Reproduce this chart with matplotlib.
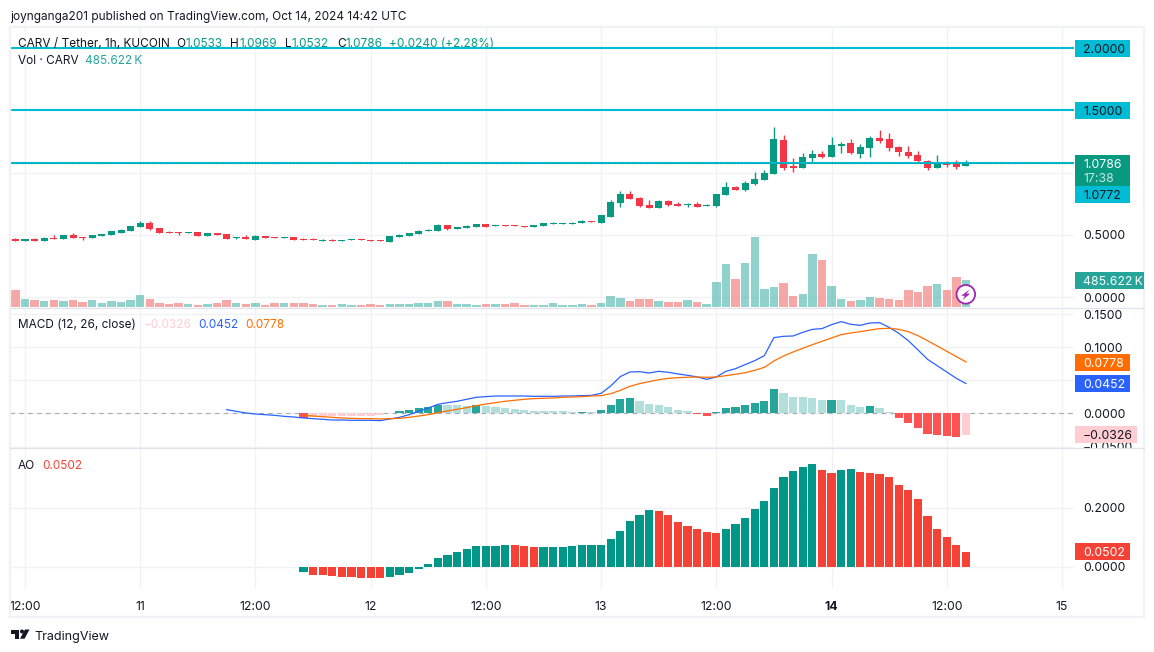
import matplotlib
matplotlib.use('Agg')
import matplotlib.pyplot as plt
from matplotlib.patches import Rectangle, Circle, Polygon
import numpy as np

plt.rcParams['font.family'] = ['Inter', 'DejaVu Sans']

W, H = 1154, 652

# Hourly candles, Oct 10 11:00 to Oct 14 14:00
opens = [.4693, .4532, .4666, .4505, .4747, .4666, .4988, .4827, .4747, .4907,
         .4988, .5149, .5310, .5632, .5953, .5551, .5229, .5229, .5149, .5229,
         .4907, .5149, .5068, .4747, .4827, .4586, .4907, .4827, .4747, .4827,
         .4666, .4666, .4532, .4612, .4532, .4586, .4666, .4586, .4586, .4425,
         .4827, .4907, .5068, .5310, .5310, .5792, .5471, .5551, .5632, .5873,
         .5712, .5792, .5792, .5712, .5632, .5712, .5873, .5873, .5873, .5953,
         .6114, .5953, .6436, .7562, .8286, .7965, .7402, .7160, .7723, .7482,
         .7402, .7482, .7321, .7321, .8206, .8850, .8608, .9091, .9413, .9895,
         1.2631, 1.0539, 1.0378, 1.1183, 1.1504, 1.1263, 1.2148, 1.2389, 1.1504, 1.1987,
         1.2792, 1.2711, 1.2068, 1.1665, 1.1424, 1.0941, 1.0378, 1.0780, 1.0700, 1.0533]
highs = [.4747, .4666, .4747, .4827, .4988, .4988, .5149, .4827, .4988, .5068,
         .5310, .5471, .5712, .6114, .6114, .5551, .5310, .5229, .5229, .5229,
         .5149, .5149, .5068, .4827, .4988, .4988, .4907, .4827, .4827, .4827,
         .4747, .4747, .4666, .4693, .4586, .4666, .4666, .4586, .4586, .4907,
         .5068, .5149, .5390, .5471, .5873, .5792, .5632, .5792, .5873, .5873,
         .5792, .5792, .5792, .5712, .5792, .5953, .6034, .5953, .6034, .6195,
         .6114, .6597, .7804, .8528, .8528, .8045, .7804, .7804, .7804, .7643,
         .7562, .7643, .7482, .8286, .9252, .8930, .9332, 1.0056, 1.0217, 1.3677,
         1.3033, 1.1183, 1.1585, 1.1826, 1.1746, 1.2872, 1.2470, 1.2711, 1.2309, 1.2953,
         1.3435, 1.3194, 1.2148, 1.2148, 1.1746, 1.1022, 1.1424, 1.0941, 1.1022, 1.0969]
lows = [.4532, .4532, .4532, .4505, .4666, .4666, .4747, .4586, .4747, .4907,
        .4988, .5149, .5310, .5632, .5390, .5149, .5149, .4988, .5149, .4907,
        .4907, .4988, .4666, .4666, .4666, .4586, .4747, .4747, .4747, .4586,
        .4586, .4586, .4532, .4532, .4532, .4586, .4586, .4532, .4532, .4425,
        .4827, .4907, .5068, .5310, .5310, .5390, .5471, .5551, .5632, .5632,
        .5712, .5712, .5712, .5658, .5632, .5712, .5873, .5873, .5873, .5953,
        .6034, .5953, .6436, .7241, .7884, .7241, .7160, .7160, .7321, .7321,
        .7241, .7241, .7321, .7241, .8206, .8608, .8528, .9010, .9413, .9895,
        1.0217, 1.0056, 1.0378, 1.0807, 1.1183, 1.1263, 1.1585, 1.1504, 1.1183, 1.1263,
        1.2389, 1.1746, 1.1344, 1.1183, 1.0861, 1.0217, 1.0378, 1.0459, 1.0298, 1.0532]
closes = [.4532, .4666, .4532, .4747, .4666, .4988, .4747, .4747, .4988, .5068,
          .5310, .5390, .5712, .5953, .5471, .5149, .5149, .5149, .5229, .4907,
          .5149, .4988, .4666, .4827, .4666, .4907, .4747, .4747, .4827, .4586,
          .4586, .4586, .4612, .4532, .4586, .4666, .4586, .4532, .4532, .4907,
          .4988, .5149, .5310, .5390, .5792, .5471, .5632, .5712, .5873, .5632,
          .5792, .5712, .5712, .5658, .5792, .5953, .5953, .5953, .5953, .6114,
          .6034, .6597, .7643, .8286, .7884, .7321, .7160, .7723, .7402, .7321,
          .7482, .7241, .7402, .8286, .8850, .8608, .9171, .9493, .9976, 1.2711,
          1.0378, 1.0378, 1.1263, 1.1504, 1.1263, 1.2229, 1.2309, 1.1585, 1.2068, 1.2792,
          1.2550, 1.1987, 1.1665, 1.1344, 1.0941, 1.0378, 1.0861, 1.0620, 1.0459, 1.0786]

# volume in thousands
volumes = [306, 144, 126, 108, 126, 108, 126, 90, 126, 72,
           108, 90, 126, 216, 144, 72, 54, 72, 54, 36,
           54, 72, 126, 72, 54, 72, 36, 72, 72, 72,
           72, 54, 36, 36, 54, 36, 36, 54, 36, 54,
           54, 54, 72, 72, 108, 108, 54, 54, 36, 54,
           54, 54, 72, 36, 36, 36, 72, 36, 36, 54,
           36, 72, 198, 162, 108, 144, 144, 108, 90, 90,
           126, 90, 54, 450, 774, 504, 792, 1260, 324, 360,
           432, 198, 234, 954, 846, 378, 144, 108, 126, 180,
           162, 144, 126, 306, 270, 378, 414, 306, 540, 485.622]

hlines = [2.0, 1.5, 1.0772]

macd_start = 22
macd_line = [.0058, .0033, .0008, -.0008, -.0018, -.0028, -.0043, -.0053,
             -.0068, -.0078, -.0088, -.0098, -.0098, -.0103, -.0103, -.0103, -.0108, -.0083,
             -.0058, -.0018, .0033, .0083, .0138, .0163, .0184, .0214, .0244, .0254,
             .0264, .0264, .0264, .0264, .0259, .0259, .0259, .0264, .0264, .0269,
             .0274, .0304, .0415, .0556, .0626, .0631, .0611, .0636, .0621, .0596,
             .0576, .0551, .0515, .0551, .0636, .0676, .0737, .0797, .0872, .1144,
             .1164, .1169, .1224, .1269, .1280, .1340, .1385, .1345, .1330, .1365,
             .1370, .1300, .1209, .1098, .0958, .0817, .0721, .0626, .0530, .0452]

ind_start = 30
signal_line = [-.0028, -.0038, -.0048, -.0058, -.0068, -.0073, -.0078, -.0078, -.0083, -.0078,
               -.0073, -.0058, -.0038, -.0018, .0013, .0038, .0063, .0088, .0118, .0143,
               .0163, .0184, .0199, .0214, .0224, .0229, .0234, .0244, .0249, .0254,
               .0264, .0269, .0299, .0349, .0410, .0450, .0480, .0510, .0530, .0540,
               .0546, .0551, .0546, .0551, .0571, .0591, .0616, .0651, .0696, .0792,
               .0867, .0928, .0983, .1038, .1088, .1139, .1189, .1214, .1234, .1259,
               .1280, .1285, .1269, .1234, .1174, .1098, .1018, .0938, .0857, .0778]
macd_hist = [-.0068, -.0048, -.0048, -.0043, -.0038, -.0038, -.0033, -.0033, -.0028, .0008,
             .0038, .0053, .0083, .0098, .0128, .0128, .0128, .0113, .0128, .0113,
             .0098, .0083, .0068, .0053, .0038, .0038, .0038, .0038, .0023, .0025,
             .0023, .0053, .0128, .0219, .0234, .0189, .0143, .0128, .0098, .0053,
             .0038, -.0008, -.0038, .0023, .0083, .0098, .0128, .0158, .0189, .0370,
             .0309, .0249, .0249, .0234, .0204, .0206, .0204, .0128, .0098, .0113,
             .0083, .0023, -.0068, -.0143, -.0219, -.0309, -.0324, -.0339, -.0354, -.0326]
ao_values = [-.0180, -.0281, -.0281, -.0314, -.0348, -.0348, -.0382, -.0382, -.0382, -.0348,
             -.0281, -.0213, -.0079, .0090, .0292, .0393, .0494, .0595, .0690, .0696,
             .0702, .0730, .0730, .0696, .0662, .0665, .0668, .0671, .0696, .0725,
             .0729, .0733, .0932, .1201, .1538, .1740, .1908, .1874, .1740, .1504,
             .1369, .1268, .1167, .1134, .1268, .1437, .1639, .1942, .2211, .2649,
             .3019, .3221, .3356, .3490, .3255, .3154, .3255, .3288, .3187, .3154,
             .3120, .3019, .2750, .2581, .2278, .1706, .1268, .0999, .0730, .0502]

x_ticks = [1, 13, 25, 37, 49, 61, 73, 85, 97, 109]
x_labels = ['12:00', '11', '12:00', '12', '12:00', '13', '12:00', '14', '12:00', '15']
main_ticks = [0.0, 0.5, 1.0, 1.5, 2.0]
main_labels = ['0.0000', '0.5000', '1.0000', '1.5000', '2.0000']
macd_ticks = [-0.05, 0.0, 0.05, 0.10, 0.15]
macd_labels = ['\u22120.0500', '0.0000', '0.0500', '0.1000', '0.1500']
ao_ticks = [0.0, 0.2]
ao_labels = ['0.0000', '0.2000']

GREEN = '#089981'
RED = '#F23645'
CYAN = '#00BCD4'
GRID = '#F1F2F6'
TEXT = '#131722'
FS = 8.8
LEGEND_FS = 8.5


def px_rect(left, top, right, bottom):
    return [left / W, 1 - bottom / H, (right - left) / W, (bottom - top) / H]


fig = plt.figure(figsize=(W / 100, H / 100), dpi=100)
ax = fig.add_axes(px_rect(10, 27, 1073.5, 307))
ax_macd = fig.add_axes(px_rect(10, 308, 1073.5, 447.5), sharex=ax)
ax_ao = fig.add_axes(px_rect(10, 448.5, 1073.5, 588), sharex=ax)

x = np.arange(len(closes))
x_ind = np.arange(ind_start, len(closes))
is_up = np.array(closes) >= np.array(opens)

# Main pane
ax_vol = ax.twinx()
ax_vol.bar(x, volumes, width=0.88, linewidth=0,
           color=['#26A69A80' if u else '#EF535080' for u in is_up])
ax_vol.set_ylim(0, 5040)
ax_vol.set_yticks([])
for s in ax_vol.spines.values():
    s.set_visible(False)

colors = [GREEN if u else RED for u in is_up]
ax.vlines(x, lows, highs, colors=colors, linewidth=1.0, zorder=3)
ax.bar(x, np.abs(np.array(closes) - np.array(opens)), bottom=np.minimum(opens, closes),
       width=0.73, color=colors, linewidth=0, zorder=4)
for level in hlines:
    ax.axhline(level, color=CYAN, linewidth=1.5, zorder=5)
ax.axhline(closes[-1], color=GREEN, linewidth=0.8, linestyle=':', zorder=6)
ax.set_ylim(-0.0803, 2.1687)
ax.set_xlim(-0.5625, 110.2)
ax.yaxis.tick_right()
ax.set_yticks(main_ticks, main_labels)

# MACD pane
hist = np.array(macd_hist)
prev_hist = np.concatenate([[0], hist[:-1]])
hist_colors = []
for v, p in zip(hist, prev_hist):
    if v >= 0:
        hist_colors.append('#26A69A' if v > p else '#B2DFDB')
    else:
        hist_colors.append('#FF5252' if v < p else '#FFCDD2')
ax_macd.axhline(0, color='#787B86', alpha=0.6, linewidth=0.8, linestyle=(0, (4, 4)), zorder=1)
ax_macd.bar(x_ind, hist, width=0.86, color=hist_colors, linewidth=0, zorder=2)
ax_macd.plot(np.arange(macd_start, len(closes)), macd_line, color='#2962FF', linewidth=0.9, zorder=3)
ax_macd.plot(x_ind, signal_line, color='#FF6D00', linewidth=0.9, zorder=4)
ax_macd.set_ylim(-0.0513, 0.1591)
ax_macd.yaxis.tick_right()
ax_macd.set_yticks(macd_ticks, macd_labels)

# AO pane
ao = np.array(ao_values)
ao_colors = ['#009688']
for i in range(1, len(ao)):
    ao_colors.append('#009688' if ao[i] > ao[i - 1] else '#F44336')
ax_ao.bar(x_ind, ao, width=0.86, color=ao_colors, linewidth=0, zorder=2)
ax_ao.set_ylim(-0.0717, 0.3997)
ax_ao.yaxis.tick_right()
ax_ao.set_yticks(ao_ticks, ao_labels)

ax_ao.set_xticks(x_ticks, x_labels)
for lab in ax_ao.get_xticklabels():
    if lab.get_text() == '14':
        lab.set_fontweight('bold')

for a in (ax, ax_macd, ax_ao):
    a.set_axisbelow(True)
    a.grid(True, color=GRID, linewidth=1.0)
    a.tick_params(axis='both', length=0, labelsize=FS, labelcolor=TEXT)
    a.tick_params(axis='y', pad=7)
    a.tick_params(axis='x', pad=9)
    for s in a.spines.values():
        s.set_visible(False)
ax.tick_params(axis='x', labelbottom=False)
ax_macd.tick_params(axis='x', labelbottom=False)

# Frame, price tags, legends and logo go on an overlay in pixel coordinates
ov = fig.add_axes([0, 0, 1, 1], zorder=10)
ov.set_xlim(0, W)
ov.set_ylim(H, 0)
ov.axis('off')
ov.patch.set_alpha(0)

ov.add_patch(Rectangle((1074, 448), 70, 8, facecolor='white', linewidth=0))
ov.add_patch(Rectangle((10, 26.5), 1134, 590.5, fill=False, edgecolor=GRID, linewidth=1.6))
ov.plot([10, 1144], [307.5, 307.5], color='#E0E3EB', linewidth=0.9)
ov.plot([10, 1144], [447.5, 447.5], color='#E0E3EB', linewidth=0.9)


def tag(top, bottom, txt, bg, fg='white', right=1130):
    ov.add_patch(Rectangle((1075, top), right - 1075, bottom - top, facecolor=bg, linewidth=0))
    ov.text(1083, (top + bottom) / 2, txt, color=fg, fontsize=FS, ha='left', va='center_baseline')


tag(40, 57, '2.0000', CYAN, TEXT)
tag(102, 119, '1.5000', CYAN, TEXT)
tag(155, 186, '', GREEN)
ov.text(1083, 163.5, '1.0786', color='white', fontsize=FS, ha='left', va='center_baseline')
ov.text(1083, 177.5, '17:38', color='#C4E6E0', fontsize=FS, ha='left', va='center_baseline')
tag(186, 203, '1.0772', CYAN, TEXT)
tag(272, 289, '485.622\u2009K', '#26A69A', right=1143.5)
tag(354, 371, '0.0778', '#FF6D00')
tag(375, 392, '0.0452', '#2962FF')
tag(426, 443, '\u22120.0326', '#FFCDD2', TEXT, right=1137)
tag(543, 560, '0.0502', '#F44336')


def label(px, py, txt, color=TEXT, **kw):
    ov.text(px, py, txt, color=color, fontsize=LEGEND_FS, ha='left', va='center_baseline', **kw)


label(10, 15.5, 'joynganga201 published on TradingView.com, Oct 14, 2024 14:42 UTC')
label(18, 42.5, 'CARV / Tether, 1h, KUCOIN')
for px, txt in [(176, 'O'), (230, 'H'), (285, 'L'), (337, 'C')]:
    label(px, 42.5, txt)
for px, txt in [(186, '1.0533'), (240, '1.0969'), (292, '1.0532'), (346, '1.0786'),
                (389, '+0.0240 (+2.28%)')]:
    label(px, 42.5, txt, GREEN)
label(18, 59.5, 'Vol \u00b7 CARV')
label(85, 59.5, '485.622\u2009K', '#26A69A')
label(18, 323.5, 'MACD (12, 26, close)')
label(144, 323.5, '\u22120.0326', '#FFCDD2')
label(198, 323.5, '0.0452', '#2962FF')
label(245, 323.5, '0.0778', '#FF6D00')
label(18, 464.5, 'AO')
label(42, 464.5, '0.0502', '#F44336')

# lightning badge on the last volume bar
ov.add_patch(Circle((965.8, 294.3), 9.3, facecolor='white', edgecolor='#9C27B0', linewidth=1.3))
ov.add_patch(Polygon([(969.8, 289.3), (961.2, 295.8), (964.8, 295.8), (962.6, 300),
                      (970.2, 293.6), (966.4, 293.6)], facecolor='#9C27B0', linewidth=0))

# TradingView logo
ov.add_patch(Polygon([(10.5, 629.5), (19, 629.5), (19, 638.7), (15, 638.7), (15, 633.5), (10.5, 633.5)],
                     facecolor=TEXT, linewidth=0))
ov.add_patch(Circle((22, 631.5), 2, facecolor=TEXT, linewidth=0))
ov.add_patch(Polygon([(25, 629.5), (29.5, 629.5), (24.5, 638.7), (20, 638.7)], facecolor=TEXT, linewidth=0))
ov.text(34, 635.5, 'TradingView', color=TEXT, fontsize=9, ha='left', va='center_baseline')

fig.savefig('out.png', dpi=100)
